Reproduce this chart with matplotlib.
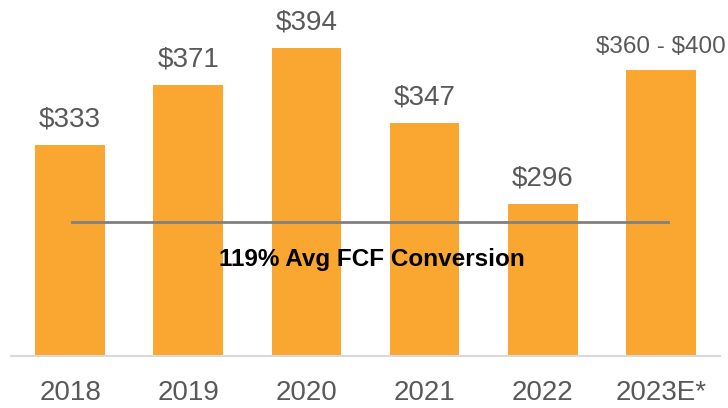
import matplotlib
matplotlib.use("Agg")
import matplotlib.pyplot as plt
from matplotlib import font_manager

years = ["2018", "2019", "2020", "2021", "2022", "2023E*"]
fcf = [333, 371, 394, 347, 296, 380]
labels = ["$333", "$371", "$394", "$347", "$296", "$360 - $400"]
avg_line_value = 284.5
avg_text = "119% Avg FCF Conversion"

names = {f.name for f in font_manager.fontManager.ttflist}
fam = ["Liberation Sans Narrow"] if "Liberation Sans Narrow" in names else ["Liberation Sans"]
plt.rcParams["font.family"] = fam + ["DejaVu Sans"]
plt.rcParams["text.parse_math"] = False

bar_color = "#F9A731"
text_color = "#595959"

fig = plt.figure(figsize=(7.28, 4.08), dpi=100)
ax = fig.add_axes([11/728, 52/408, 709/728, 356/408])
x = list(range(len(years)))
ax.bar(x, fcf, width=0.59, color=bar_color, zorder=2)
ax.set_xlim(-0.5, 5.5)
ax.set_ylim(200, 424.3)

for xi, v, lab in zip(x, fcf, labels):
    fs = 17.5 if len(lab) > 6 else 20
    ax.annotate(lab, (xi, v), xytext=(0, 9), textcoords="offset points",
                ha="center", va="bottom", fontsize=fs, color=text_color)

ax.plot([0.02, 5.06], [avg_line_value, avg_line_value], color="#808080", lw=2, zorder=3)
ax.text(2.55, 261.0, avg_text, ha="center", va="center", fontsize=17.5,
        fontweight="bold", color="black", zorder=4)

ax.set_xticks(x)
ax.set_xticklabels(years, fontsize=20, color=text_color)
ax.tick_params(axis="x", length=0, pad=17)
ax.set_yticks([])
for s in ["top", "right", "left"]:
    ax.spines[s].set_visible(False)
ax.spines["bottom"].set_color("#D9D9D9")
ax.spines["bottom"].set_linewidth(1.5)

fig.savefig("out.png", dpi=100)
